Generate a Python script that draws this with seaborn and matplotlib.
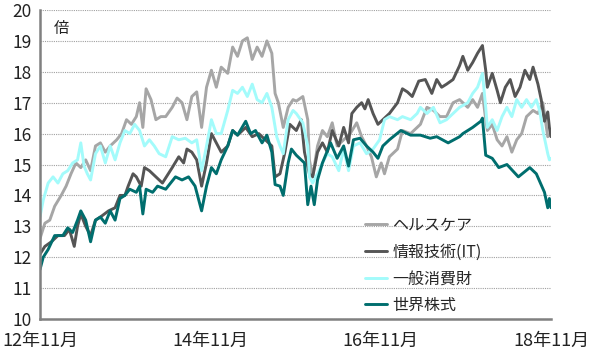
import pandas as pd
import seaborn as sns
import matplotlib.pyplot as plt
import matplotlib.dates as mdates

# 週番号(2012/11/1 起点) と PER(倍)
hc_weeks = [0, 3, 6, 9, 13, 16, 19, 22, 25, 28, 31, 34, 37, 40, 43, 47, 50, 53, 56, 59, 61, 63, 65, 68, 71, 74,
            77, 81, 84, 87, 90, 93, 96, 99, 102, 105, 108, 111, 115, 118, 121, 124, 127, 130, 133, 136, 139, 142,
            144, 146, 149, 152, 155, 157, 161, 164, 165, 167, 170, 173, 176, 179, 182, 186, 190, 194, 197, 200,
            203, 206, 209, 211, 214, 219, 222, 227, 231, 233, 237, 241, 245, 249, 253, 257, 262, 265, 268, 271,
            273, 274, 277, 280, 283, 286, 289, 292, 295, 298, 302, 305, 308, 311, 313]
hc_vals = [12.6, 13.1, 13.2, 13.65, 14.0, 14.3, 14.7, 15.05, 14.9, 15.15, 14.8, 15.6, 15.7, 15.4, 15.6, 15.8, 16.0,
           16.45, 16.3, 16.55, 17.0, 16.2, 17.45, 17.1, 16.45, 16.55,
           16.55, 16.85, 17.15, 17.0, 16.45, 17.2, 17.35, 16.2, 17.5, 18.05, 17.5, 18.15, 17.95, 18.8, 18.5, 19.0,
           19.1, 18.4, 18.8, 18.5, 19.0, 18.6,
           17.3, 17.0, 16.2, 16.85, 17.1, 17.05, 17.2, 16.45, 15.15, 14.6, 15.6, 16.1, 15.9, 16.35, 15.6, 15.8,
           16.0, 16.35, 15.9, 15.6,
           15.25, 14.6, 15.05, 14.7, 15.25, 15.5, 16.1, 16.0, 16.2, 16.3, 16.85, 16.75, 16.55, 16.55, 17.0, 17.1,
           16.85, 17.1, 16.85, 17.3,
           16.45, 16.1, 16.3, 15.8, 15.6, 15.9, 15.4, 15.8, 16.0, 16.55, 16.75, 16.65, 17.0, 15.9, 16.0]

it_weeks = [0, 3, 7, 11, 15, 18, 21, 23, 25, 28, 31, 34, 37, 42, 46, 49, 52, 54, 57, 59, 62, 64, 67, 71, 75,
            81, 85, 88, 90, 93, 96, 99, 102, 105, 108, 111, 115, 118, 121, 126, 130, 134, 138, 142, 144, 147, 150,
            153, 157, 160, 162, 165, 167, 170, 173, 176, 179, 183, 186, 189, 191, 194, 197, 199, 201, 204, 207,
            210, 214, 219, 222, 225, 228, 232, 236, 240, 243, 246, 249, 253, 257, 259, 262, 265, 268, 271, 273,
            274, 277, 280, 282, 285, 288, 291, 294, 297, 300, 302, 305, 307, 309, 311, 312, 313]
it_vals = [12.1, 12.35, 12.5, 12.7, 12.7, 12.9, 12.35, 13.0, 13.4, 13.0, 12.7, 13.2, 13.3, 13.5, 13.6, 14.0, 14.0,
           14.3, 14.7, 14.6, 14.3, 14.9, 14.8, 14.6, 14.4,
           14.9, 15.25, 15.05, 15.5, 15.4, 15.15, 14.3, 15.05, 16.0, 15.7, 15.4, 15.6, 16.1, 15.95, 16.2, 15.9,
           16.0, 15.8, 15.6, 14.6, 14.7, 15.4,
           16.3, 16.1, 16.45, 15.4, 14.7, 14.6, 15.4, 15.7, 15.4, 16.1, 15.6, 16.2, 15.7, 16.65, 16.85, 17.0,
           16.8, 17.1, 16.65, 16.3,
           16.45, 16.65, 17.0, 17.45, 17.35, 17.2, 17.7, 17.75, 17.3, 17.75, 17.5, 17.6, 17.75, 18.2, 18.5, 18.05,
           18.3, 18.6, 18.85, 18.05,
           17.5, 17.95, 17.4, 17.0, 17.5, 17.75, 17.2, 17.5, 18.05, 17.75, 18.15, 17.6, 17.1, 16.4, 16.7, 16.2,
           15.9]

cd_weeks = [0, 2, 5, 8, 11, 14, 17, 20, 23, 25, 27, 29, 31, 34, 37, 40, 43, 46, 49, 52, 55, 58, 61, 64, 67, 70,
            73, 77, 81, 85, 89, 93, 96, 99, 102, 105, 108, 111, 115, 118, 121, 124, 127, 130, 133, 136, 139, 142,
            145, 147, 149, 152, 155, 157, 161, 164, 165, 167, 170, 173, 176, 179, 183, 186, 189, 192, 196, 200,
            204, 208, 211, 214, 219, 222, 227, 231, 233, 237, 241, 245, 249, 253, 257, 262, 265, 268, 271, 273,
            274, 277, 280, 283, 286, 289, 292, 295, 298, 301, 304, 306, 308, 311, 312, 313]
cd_vals = [13.3, 13.85, 14.4, 14.6, 14.4, 14.7, 14.8, 15.05, 15.15, 15.7, 14.95, 14.7, 14.5, 15.35, 15.6, 15.05,
           15.6, 15.15, 15.7, 16.1, 16.0, 16.3, 16.1, 15.6, 15.8, 15.6,
           15.35, 15.25, 15.9, 15.8, 15.85, 15.7, 15.8, 14.8, 15.6, 16.45, 16.0, 16.0, 16.75, 17.4, 17.3, 17.5,
           17.2, 17.6, 17.1, 17.0, 17.3, 16.85,
           15.9, 15.6, 15.35, 16.45, 16.75, 16.65, 16.35, 15.6, 14.6, 14.4, 14.7, 15.05, 15.35, 15.25, 14.8, 15.5,
           14.8, 15.6, 15.7, 15.35,
           15.5, 15.8, 16.45, 16.55, 16.45, 16.55, 16.45, 16.65, 16.85, 16.65, 16.85, 16.35, 16.45, 16.65, 16.85,
           17.0, 17.3, 17.5, 17.95, 16.85,
           16.2, 16.45, 16.1, 16.55, 16.85, 16.55, 17.1, 16.85, 17.1, 16.85, 17.1, 16.75, 16.1, 15.35, 15.15, 15.2]

ws_weeks = [0, 2, 5, 9, 14, 17, 20, 23, 25, 28, 31, 34, 37, 40, 43, 46, 49, 52, 55, 59, 61, 63, 65, 69, 72,
            77, 83, 87, 91, 95, 99, 102, 105, 108, 111, 115, 118, 121, 126, 129, 132, 136, 139, 142, 144, 147,
            149, 152, 154, 157, 162, 164, 166, 168, 170, 173, 178, 182, 186, 189, 192, 196, 200, 204, 207, 210,
            214, 221, 227, 233, 239, 243, 250, 257, 259, 265, 270, 271, 273, 277, 281, 286, 293, 300, 304, 309,
            311, 312, 313]
ws_vals = [11.6, 12.0, 12.25, 12.7, 12.7, 12.95, 12.8, 13.2, 13.5, 13.2, 12.5, 13.2, 13.3, 13.1, 13.5, 13.2, 13.9,
           14.0, 14.2, 14.1, 14.3, 13.4, 14.2, 14.1, 14.3,
           14.2, 14.6, 14.5, 14.6, 14.3, 13.5, 14.3, 14.9, 14.7, 15.15, 15.6, 16.1, 15.95, 16.4, 16.0, 16.1, 15.7,
           15.95, 15.4, 14.35, 14.3,
           14.0, 15.05, 15.5, 15.3, 15.05, 13.7, 14.3, 13.7, 14.5, 15.05, 15.7, 15.2, 15.6, 14.95, 15.8, 15.85,
           15.6, 15.4, 15.2, 15.6,
           15.8, 16.1, 15.95, 15.95, 15.85, 15.9, 15.7, 15.9, 16.0, 16.2, 16.4, 16.5, 15.3, 15.2, 14.9, 15.0,
           14.6, 14.9, 14.7, 14.1,
           13.6, 13.9, 13.6]

names = ["ヘルスケア", "情報技術(IT)", "一般消費財", "世界株式"]
colors = ["#A6A6A6", "#555555", "#A3FBFB", "#006E6E"]

start = pd.Timestamp("2012-11-01")
frames = []
for name, wk, val in zip(names, [hc_weeks, it_weeks, cd_weeks, ws_weeks],
                         [hc_vals, it_vals, cd_vals, ws_vals]):
    frames.append(pd.DataFrame({
        "date": start + pd.to_timedelta([w * 7 for w in wk], unit="D"),
        "per": val,
        "series": name,
    }))
df = pd.concat(frames, ignore_index=True)

sns.set_style("white")
plt.rcParams["font.family"] = ["Noto Sans CJK JP", "DejaVu Sans"]

fig = plt.figure(figsize=(6.03, 3.57), dpi=100)
ax = fig.add_axes([0.0663, 0.1064, 0.8475, 0.8656])

sns.lineplot(data=df, x="date", y="per", hue="series", hue_order=names,
             palette=dict(zip(names, colors)), linewidth=2.1, estimator=None,
             ax=ax)

ax.set_xlim(pd.Timestamp("2012-11-01"), pd.Timestamp("2018-11-01"))
ax.set_ylim(10, 20)
ax.set_yticks(range(10, 21))
ax.set_xticks([pd.Timestamp(f"{y}-11-01") for y in (2012, 2014, 2016, 2018)])
ax.xaxis.set_major_formatter(mdates.DateFormatter("%y年%m月"))
ax.set_xlabel("")
ax.set_ylabel("")

ax.grid(axis="y", color="#A0A0A0", linestyle=(0, (1, 1)), linewidth=0.8)
ax.grid(axis="x", visible=False)
for s in ["top", "right"]:
    ax.spines[s].set_visible(False)
for s in ["left", "bottom"]:
    ax.spines[s].set_color("#808080")
    ax.spines[s].set_linewidth(1.8)

ax.tick_params(axis="y", length=0, labelsize=12.5, labelcolor="#222222", pad=6)
ax.tick_params(axis="x", length=4, width=1, color="#808080", labelsize=13,
               labelcolor="#222222", direction="out", pad=5)

ax.text(0.028, 0.94, "倍", transform=ax.transAxes, fontsize=11, va="center", ha="left",
        color="#222222")

ax.legend(loc="upper left", bbox_to_anchor=(0.636, 0.33), frameon=False, fontsize=11.5,
          handlelength=1.4, handletextpad=0.3, labelspacing=0.6, borderpad=0,
          borderaxespad=0)

fig.savefig("out.png", dpi=100)
